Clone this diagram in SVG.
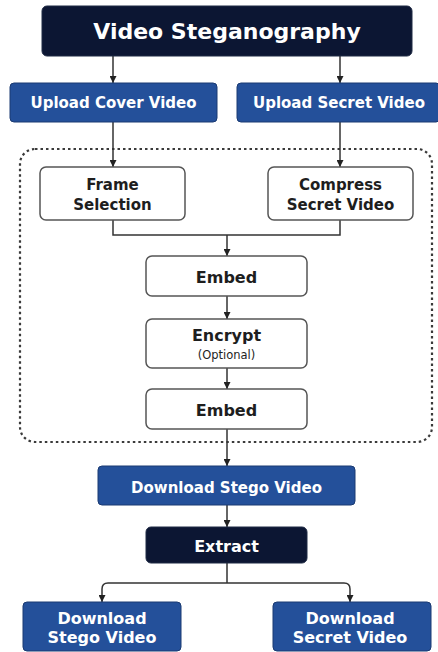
<svg xmlns="http://www.w3.org/2000/svg" width="438" height="652" viewBox="0 0 438 652">
<defs>
<style>
.dark{fill:#0c1633;stroke:#1f2a44;stroke-width:1}
.blue{fill:#24509a;stroke:#1a3a72;stroke-width:1}
.white{fill:#ffffff;stroke:#555555;stroke-width:1.5}
.tw{fill:#ffffff;font-family:"DejaVu Sans","Liberation Sans",sans-serif;font-weight:bold;text-anchor:middle}
.tk{fill:#1e1e1e;font-family:"DejaVu Sans","Liberation Sans",sans-serif;font-weight:bold;text-anchor:middle}
.tn{fill:#1e1e1e;font-family:"DejaVu Sans","Liberation Sans",sans-serif;font-weight:normal;text-anchor:middle}
.ln{fill:none;stroke:#333333;stroke-width:1.5}
</style>
<marker id="ah" viewBox="0 0 10 10" refX="10" refY="5" markerWidth="7" markerHeight="7" markerUnits="userSpaceOnUse" orient="auto">
<path d="M0,0 L10,5 L0,10 z" fill="#222222"/>
</marker>
</defs>
<rect width="438" height="652" fill="#ffffff"/>
<rect id="container" x="20" y="149" width="412" height="293" rx="15" fill="none" stroke="#3a3a3a" stroke-width="2.2" stroke-dasharray="2.5 3"/>
<g id="connectors">
<path class="ln" d="M113,56 V83" marker-end="url(#ah)"/>
<path class="ln" d="M340,56 V83" marker-end="url(#ah)"/>
<path class="ln" d="M113,122 V167" marker-end="url(#ah)"/>
<path class="ln" d="M340,122 V167" marker-end="url(#ah)"/>
<path class="ln" d="M113,220 V235 H340 V220"/>
<path class="ln" d="M227,235 V256" marker-end="url(#ah)"/>
<path class="ln" d="M227,296 V319" marker-end="url(#ah)"/>
<path class="ln" d="M227,368 V389" marker-end="url(#ah)"/>
<path class="ln" d="M227,429 V466" marker-end="url(#ah)"/>
<path class="ln" d="M227,505 V527" marker-end="url(#ah)"/>
<path class="ln" d="M227,563 V583 M227,583 H108 Q102,583 102,589 V602" marker-end="url(#ah)"/>
<path class="ln" d="M227,583 H344 Q350,583 350,589 V602" marker-end="url(#ah)"/>
</g>
<g id="title">
<rect class="dark" x="42" y="6" width="370" height="50" rx="5"/>
<text class="tw" x="227" y="39" font-size="22">Video Steganography</text>
</g>
<g id="upload-cover">
<rect class="blue" x="10" y="83" width="207" height="39" rx="4"/>
<text class="tw" x="113.5" y="108" font-size="15">Upload Cover Video</text>
</g>
<g id="upload-secret">
<rect class="blue" x="237" y="83" width="203" height="39" rx="4"/>
<text class="tw" x="339" y="108" font-size="15">Upload Secret Video</text>
</g>
<g id="frame-selection">
<rect class="white" x="40" y="167" width="145" height="53" rx="6"/>
<text class="tk" x="112.5" y="190" font-size="15">Frame</text>
<text class="tk" x="112.5" y="210" font-size="15">Selection</text>
</g>
<g id="compress">
<rect class="white" x="268" y="167" width="145" height="53" rx="6"/>
<text class="tk" x="340.5" y="190" font-size="15">Compress</text>
<text class="tk" x="340.5" y="210" font-size="15">Secret Video</text>
</g>
<g id="embed1">
<rect class="white" x="146" y="256" width="161" height="40" rx="6"/>
<text class="tk" x="226.5" y="283" font-size="16">Embed</text>
</g>
<g id="encrypt">
<rect class="white" x="146" y="319" width="161" height="49" rx="6"/>
<text class="tk" x="226.5" y="341" font-size="16">Encrypt</text>
<text class="tn" x="226.5" y="359" font-size="11.5">(Optional)</text>
</g>
<g id="embed2">
<rect class="white" x="146" y="389" width="161" height="40" rx="6"/>
<text class="tk" x="226.5" y="416" font-size="16">Embed</text>
</g>
<g id="download-stego-mid">
<rect class="blue" x="98" y="466" width="257" height="39" rx="4"/>
<text class="tw" x="226.5" y="493" font-size="15">Download Stego Video</text>
</g>
<g id="extract">
<rect class="dark" x="146" y="527" width="161" height="36" rx="5"/>
<text class="tw" x="226.5" y="552" font-size="16">Extract</text>
</g>
<g id="download-stego">
<rect class="blue" x="23" y="602" width="158" height="49" rx="4"/>
<text class="tw" x="102" y="624" font-size="16">Download</text>
<text class="tw" x="102" y="643" font-size="16">Stego Video</text>
</g>
<g id="download-secret">
<rect class="blue" x="273" y="602" width="158" height="49" rx="4"/>
<text class="tw" x="350" y="624" font-size="16">Download</text>
<text class="tw" x="350" y="643" font-size="16">Secret Video</text>
</g>
</svg>
